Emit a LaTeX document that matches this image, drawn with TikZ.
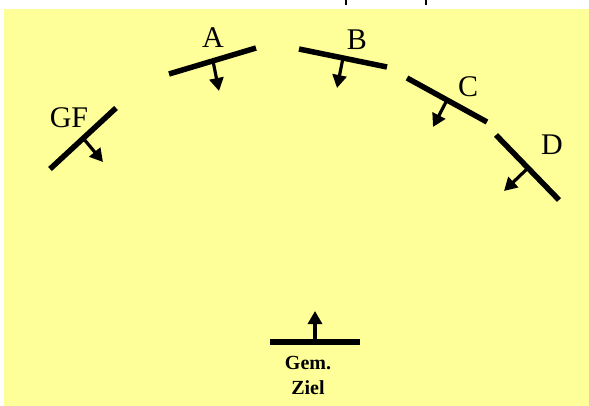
\documentclass[tikz,border=0pt]{standalone}
\usepackage{fontspec}
\setmainfont{Liberation Serif}
\usetikzlibrary{arrows.meta}
\definecolor{bgyellow}{HTML}{FFFF99}
\tikzset{
  wall/.style={line width=5.5pt, line cap=butt},
  dirarrow/.style={line width=3.2pt, -{Triangle[length=13pt,width=14pt]}},
  lbl/.style={font=\fontsize{30}{32}\selectfont, inner sep=0pt},
  goal/.style={font=\bfseries\fontsize{20}{25}\selectfont, align=center, inner sep=0pt},
  tick/.style={line width=2pt}
}
\begin{document}
\begin{tikzpicture}[x=1pt,y=-1pt]
\useasboundingbox (0,0) rectangle (589,406);
\fill[bgyellow] (4,9) rectangle (589,406);
% cut-off marks at top
\coordinate (t1a) at (346,0); \coordinate (t1b) at (346,5);
\coordinate (t2a) at (426,0); \coordinate (t2b) at (426,5);
\draw[tick] (t1a) -- (t1b);
\draw[tick] (t2a) -- (t2b);
% GF
\coordinate (gf1) at (50,169); \coordinate (gf2) at (116,108);
\coordinate (gfs) at (83,138); \coordinate (gft) at (103,162);
\draw[wall] (gf1) -- (gf2);
\draw[dirarrow] (gfs) -- (gft);
\node[lbl] (gfl) at (69,118) {GF};
% A
\coordinate (a1) at (169,74); \coordinate (a2) at (256,48);
\coordinate (as) at (213,61); \coordinate (at) at (219,91);
\draw[wall] (a1) -- (a2);
\draw[dirarrow] (as) -- (at);
\node[lbl] (al) at (213,38) {A};
% B
\coordinate (b1) at (299,49); \coordinate (b2) at (387,67);
\coordinate (bs) at (343,58); \coordinate (bt) at (337,88);
\draw[wall] (b1) -- (b2);
\draw[dirarrow] (bs) -- (bt);
\node[lbl] (bl) at (357,40) {B};
% C
\coordinate (c1) at (407,78); \coordinate (c2) at (487,122);
\coordinate (cs) at (447,100); \coordinate (ct) at (433,127);
\draw[wall] (c1) -- (c2);
\draw[dirarrow] (cs) -- (ct);
\node[lbl] (cl) at (468,87) {C};
% D
\coordinate (d1) at (496,135); \coordinate (d2) at (559,200);
\coordinate (ds) at (528,168); \coordinate (dt) at (504,191);
\draw[wall] (d1) -- (d2);
\draw[dirarrow] (ds) -- (dt);
\node[lbl] (dl) at (552,145) {D};
% Gem. Ziel
\coordinate (g1) at (270,342); \coordinate (g2) at (360,342);
\coordinate (gs) at (315,342); \coordinate (gt) at (315,311);
\draw[wall] (g1) -- (g2);
\draw[dirarrow] (gs) -- (gt);
\node[goal] (gl) at (308,375) {Gem.\\Ziel};
\end{tikzpicture}
\end{document}
